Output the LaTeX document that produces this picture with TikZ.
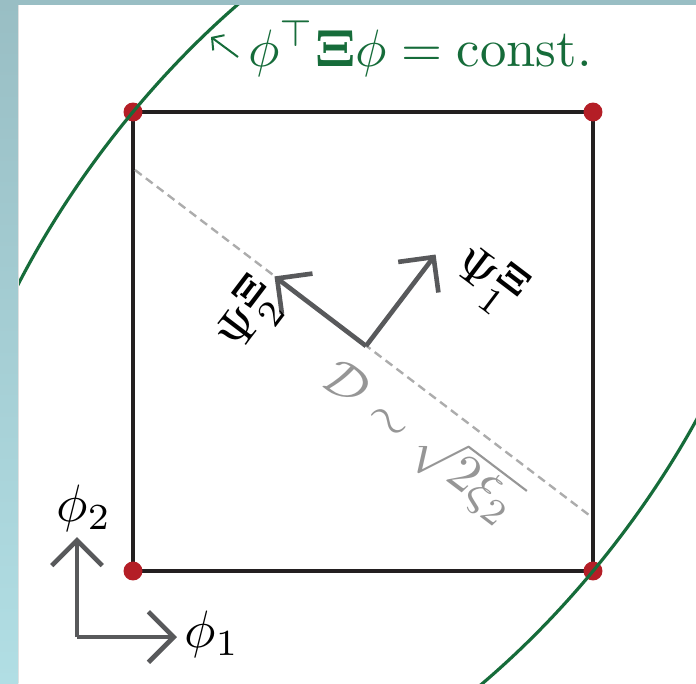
\documentclass[tikz,border=0pt]{standalone}
\usetikzlibrary{arrows.meta}
\definecolor{ellgreen}{RGB}{22,108,58}
\definecolor{dotred}{RGB}{180,30,38}
\definecolor{arrgray}{RGB}{88,89,91}
\definecolor{dashgray}{RGB}{172,172,172}
\definecolor{labgray}{RGB}{150,150,150}
\definecolor{tealtop}{RGB}{153,190,196}
\definecolor{tealbot}{RGB}{177,222,228}
\definecolor{sqblack}{RGB}{35,31,32}
\begin{document}
\begin{tikzpicture}[x=0.19pt,y=0.19pt,
  sqline/.style={draw=sqblack,line width=0.82pt},
  corner/.style={circle,fill=dotred,inner sep=0pt,minimum size=3.6pt},
  vecarrow/.style={draw=arrgray,line width=0.88pt,-{Straight Barb[length=4.8pt,width=9.6pt]}},
  axarrow/.style={draw=arrgray,line width=0.88pt,-{Straight Barb[length=4.8pt,width=9.6pt]}},
  dashline/.style={draw=dashgray,line width=0.45pt,dash pattern=on 1.6pt off 1pt},
  ellline/.style={draw=ellgreen,line width=0.6pt}]
\useasboundingbox (0,0) rectangle (696,683);
\fill[white] (0,0) rectangle (696,683);
% square
\coordinate (tl) at (133,571);
\coordinate (tr) at (593,571);
\coordinate (br) at (593,112);
\coordinate (bl) at (133,112);
\draw[sqline] (tl) -- (tr) -- (br) -- (bl) -- cycle;
% dashed diagonal
\coordinate (da) at (135,513);
\coordinate (db) at (589,168);
\draw[dashline] (da) -- (db);
% corner dots
\node[corner] (dtl) at (tl) {};
\node[corner] (dtr) at (tr) {};
\node[corner] (dbr) at (br) {};
\node[corner] (dbl) at (bl) {};
% ellipse
\begin{scope}
\clip (0,0) rectangle (696,683);
\draw[ellline] (363,341.5) ellipse [x radius=562, y radius=323, rotate=52.8];
\end{scope}
% eigenvectors
\coordinate (c) at (366,337);
\coordinate (p1) at (435.6,428.5);
\coordinate (p2) at (274.5,406.6);
\draw[vecarrow] (c) -- (p1);
\draw[vecarrow] (c) -- (p2);
\node[rotate=-37.2] (l1) at (490,403) {$\Psi_1^{\mathbf{\Xi}}$};
\node[rotate=52.8] (l2) at (250,368) {$\Psi_2^{\mathbf{\Xi}}$};
\node[text=labgray,rotate=-37.2] (dl) at (421,242) {$\mathcal{D}\sim\sqrt{2\xi_2}$};
% axes
\coordinate (o) at (77,46);
\coordinate (ay) at (77,146);
\coordinate (ax) at (177,46);
\draw[axarrow] (o) -- (ay);
\draw[axarrow] (o) -- (ax);
\node (f2) at (84,175) {$\phi_2$};
\node (f1) at (212,49) {$\phi_1$};
% annotation
\node[text=ellgreen,anchor=base] (ann) at (420,617) {$\phi^\top\mathbf{\Xi}\phi = \mathrm{const.}$};
\coordinate (at1) at (238,626);
\coordinate (at2) at (211,646);
\draw[draw=ellgreen,line width=0.38pt,-{Straight Barb[length=1.6pt,width=3.6pt]}] (at1) -- (at2);
% frame strips
\shade[top color=tealtop,bottom color=tealbot] (0,0) rectangle (18.5,683);
\fill[black!12] (18.5,0) rectangle (19.3,678);
\fill[tealtop] (0,678) rectangle (696,683);
\end{tikzpicture}
\end{document}
